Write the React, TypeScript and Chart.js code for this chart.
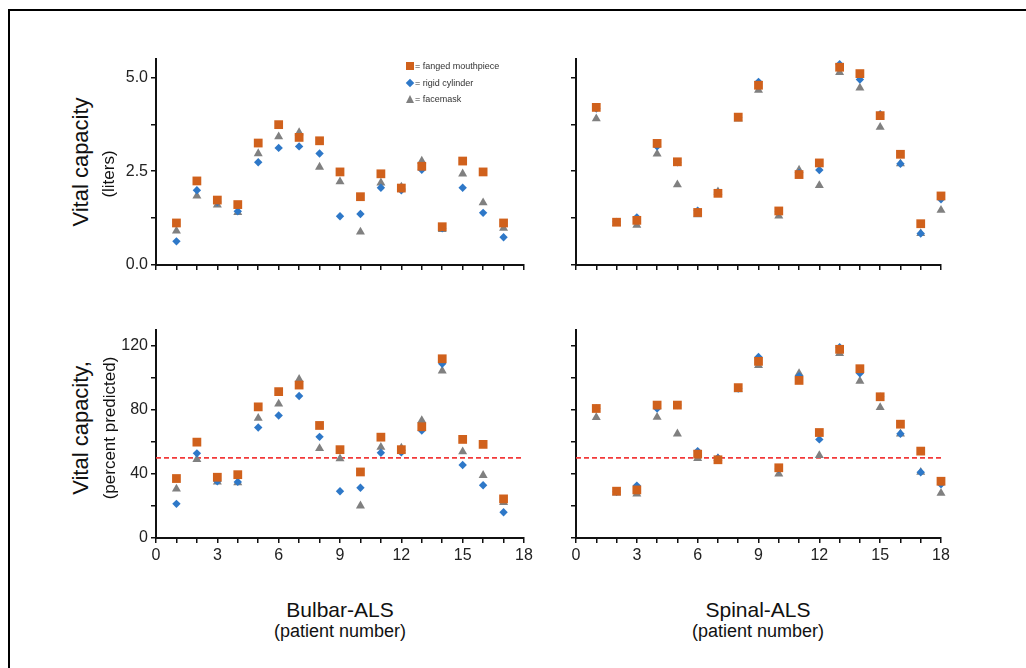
import React, { useEffect, useRef } from 'react';
import { Chart, registerables } from 'chart.js';

Chart.register(...registerables);

// ---------- data ----------
const bulbarPatients = [1, 2, 3, 4, 5, 6, 7, 8, 9, 10, 11, 12, 13, 14, 15, 16, 17];
const spinalPatients = [1, 2, 3, 4, 5, 6, 7, 8, 9, 10, 11, 12, 13, 14, 15, 16, 17, 18];

const bulbarLitersFlanged = [1.12, 2.24, 1.73, 1.61, 3.25, 3.74, 3.4, 3.31, 2.48, 1.82, 2.43, 2.05, 2.63, 1.02, 2.77, 2.48, 1.12];
const bulbarLitersRigid = [0.63, 1.99, 1.68, 1.43, 2.74, 3.12, 3.16, 2.97, 1.3, 1.36, 2.06, 1.99, 2.54, 0.98, 2.06, 1.39, 0.74];
const bulbarLitersMask = [0.91, 1.84, 1.6, 1.4, 2.97, 3.42, 3.53, 2.61, 2.22, 0.88, 2.19, 2.08, 2.77, 0.95, 2.43, 1.66, 0.98];

const spinalLitersFlanged = [4.2, 1.14, 1.19, 3.24, 2.75, 1.4, 1.91, 3.94, 4.79, 1.44, 2.41, 2.72, 5.27, 5.1, 3.98, 2.95, 1.1, 1.84];
const spinalLitersRigid = [4.17, 1.15, 1.27, 3.16, 2.74, 1.45, 1.93, 3.94, 4.88, 1.42, 2.45, 2.53, 5.35, 4.94, 4.02, 2.7, 0.84, 1.75];
const spinalLitersMask = [3.9, 1.11, 1.06, 2.96, 2.14, 1.34, 1.95, 3.89, 4.66, 1.31, 2.53, 2.12, 5.13, 4.72, 3.67, 2.7, 0.84, 1.46];

const bulbarPctFlanged = [37.1, 59.8, 37.9, 39.5, 81.8, 91.3, 95.4, 70.2, 55.1, 41.2, 62.9, 55.1, 69.4, 111.8, 61.5, 58.4, 24.4];
const bulbarPctRigid = [21.3, 52.8, 35.4, 35.0, 68.9, 76.4, 88.6, 63.1, 29.2, 31.3, 53.2, 53.4, 67.1, 108.7, 45.5, 32.9, 16.1];
const bulbarPctMask = [30.6, 49.1, 35.0, 34.6, 74.7, 83.6, 99.0, 55.9, 49.5, 20.1, 56.7, 56.1, 73.3, 104.3, 53.8, 39.1, 22.2];

const spinalPctFlanged = [80.8, 29.2, 30.0, 82.9, 82.9, 52.3, 48.8, 93.8, 110.2, 43.8, 98.3, 65.8, 117.7, 105.6, 88.1, 71.0, 54.2, 35.4];
const spinalPctRigid = [80.8, 28.8, 32.7, 80.8, 82.9, 54.2, 50.0, 93.3, 112.9, 43.0, 101.0, 61.5, 119.0, 102.7, 88.1, 65.0, 41.0, 33.5];
const spinalPctMask = [75.2, 28.1, 27.5, 75.4, 65.0, 49.6, 49.6, 92.5, 107.7, 40.0, 102.7, 51.5, 115.2, 97.9, 81.5, 65.0, 41.0, 27.9];

const thresholdPct = 50;

const xTicks = [0, 1, 2, 3, 4, 5, 6, 7, 8, 9, 10, 11, 12, 13, 14, 15, 16, 17, 18];
const xLabelValues = [0, 3, 6, 9, 12, 15, 18];
const yTicksLiters = [0, 1.25, 2.5, 3.75, 5.0];
const yLabelLiters = [0, 2.5, 5.0];
const yTicksPct = [0, 20, 40, 60, 80, 100, 120];
const yLabelPct = [0, 40, 80, 120];

const legendLabels = ['= fanged mouthpiece', '= rigid cylinder', '= facemask'];

// ---------- styles ----------
const FONT = '"Liberation Sans", Arial, Helvetica, sans-serif';
const ORANGE = '#d0611c';
const BLUE = '#2e78c8';
const GRAY = '#808080';
const AXIS = '#111111';

type Area = { left: number; top: number; right: number; bottom: number };

type PanelProps = {
  area: Area;
  patients: number[];
  flanged: number[];
  rigid: number[];
  mask: number[];
  yMax: number;
  yTicks: number[];
  yLabels: number[] | null;
  yDigits: number;
  xLabels: number[] | null;
  threshold?: number;
};

const YW = 60;
const XH = 30;
const PT = 12;
const PR = 14;

function Panel(props: PanelProps) {
  const { area, patients, flanged, rigid, mask, yMax, yTicks, yLabels, yDigits, xLabels, threshold } = props;
  const ref = useRef<HTMLCanvasElement>(null);
  const cw = area.right - area.left + YW + PR;
  const ch = area.bottom - area.top + PT + XH;

  useEffect(() => {
    if (!ref.current) return;
    const toPts = (ys: number[]) => patients.map((x, i) => ({ x, y: ys[i] }));
    const datasets: any[] = [
      {
        type: 'scatter',
        data: toPts(flanged),
        pointStyle: 'rect',
        pointRadius: 6.2,
        backgroundColor: ORANGE,
        borderColor: ORANGE,
        borderWidth: 0,
        clip: false,
      },
      {
        type: 'scatter',
        data: toPts(rigid),
        pointStyle: 'rectRot',
        pointRadius: 4.2,
        backgroundColor: BLUE,
        borderColor: BLUE,
        borderWidth: 0,
        clip: false,
      },
      {
        type: 'scatter',
        data: toPts(mask),
        pointStyle: 'triangle',
        pointRadius: 5.2,
        backgroundColor: GRAY,
        borderColor: GRAY,
        borderWidth: 0,
        clip: false,
      },
    ];
    if (threshold !== undefined) {
      datasets.push({
        type: 'line',
        data: [
          { x: xTicks[0], y: threshold },
          { x: xTicks[xTicks.length - 1], y: threshold },
        ],
        borderColor: '#f23a3a',
        borderWidth: 1.8,
        borderDash: [5, 3],
        pointRadius: 0,
        fill: false,
        clip: false,
      });
    }

    const tickFont = { family: FONT, size: 16 };
    const chart = new Chart(ref.current, {
      type: 'scatter',
      data: { datasets },
      options: {
        animation: false,
        responsive: false,
        devicePixelRatio: 1,
        layout: { padding: { top: PT, right: PR, left: 0, bottom: 0 } },
        plugins: { legend: { display: false }, tooltip: { enabled: false } },
        scales: {
          x: {
            type: 'linear',
            min: xTicks[0],
            max: xTicks[xTicks.length - 1],
            afterBuildTicks: (s: any) => {
              s.ticks = xTicks.map((v) => ({ value: v }));
            },
            afterFit: (s: any) => {
              s.height = XH;
            },
            ticks: {
              autoSkip: false,
              maxRotation: 0,
              padding: 3,
              color: '#222',
              font: tickFont,
              callback: (v: any) => (xLabels && xLabels.includes(Number(v)) ? String(v) : ''),
            },
            grid: {
              drawOnChartArea: false,
              drawTicks: true,
              tickLength: 5,
              color: AXIS,
              lineWidth: 1.5,
            },
            border: { display: true, color: AXIS, width: 2 },
          },
          y: {
            type: 'linear',
            min: 0,
            max: yMax,
            afterBuildTicks: (s: any) => {
              s.ticks = yTicks.map((v) => ({ value: v }));
            },
            afterFit: (s: any) => {
              s.width = YW;
            },
            ticks: {
              autoSkip: false,
              padding: 3,
              color: '#222',
              font: tickFont,
              callback: (v: any) =>
                yLabels && yLabels.some((l) => Math.abs(l - Number(v)) < 1e-9)
                  ? Number(v).toFixed(yDigits)
                  : '',
            },
            grid: {
              drawOnChartArea: false,
              drawTicks: true,
              tickLength: 5,
              color: AXIS,
              lineWidth: 1.5,
            },
            border: { display: true, color: AXIS, width: 2 },
          },
        },
      } as any,
    });
    return () => chart.destroy();
  }, []);

  return (
    <canvas
      ref={ref}
      width={cw}
      height={ch}
      style={{
        position: 'absolute',
        left: area.left - YW,
        top: area.top - PT,
        width: cw,
        height: ch,
      }}
    />
  );
}

function RotLabel({ text, cx, cy, size }: { text: string; cx: number; cy: number; size: number }) {
  return (
    <div
      style={{
        position: 'absolute',
        left: cx,
        top: cy,
        transform: 'translate(-50%, -50%) rotate(-90deg)',
        whiteSpace: 'nowrap',
        fontFamily: FONT,
        fontSize: size,
        lineHeight: 1,
        color: '#111',
      }}
    >
      {text}
    </div>
  );
}

function HLabel({ text, cx, cy, size }: { text: string; cx: number; cy: number; size: number }) {
  return (
    <div
      style={{
        position: 'absolute',
        left: cx,
        top: cy,
        transform: 'translate(-50%, -50%)',
        whiteSpace: 'nowrap',
        fontFamily: FONT,
        fontSize: size,
        lineHeight: 1,
        color: '#111',
      }}
    >
      {text}
    </div>
  );
}

function Legend() {
  const rows = [66, 83, 99];
  const markers = [
    <div key="o" style={{ width: 8, height: 8, background: ORANGE }} />,
    <div key="b" style={{ width: 6, height: 6, background: BLUE, transform: 'rotate(45deg)' }} />,
    <div
      key="g"
      style={{
        width: 0,
        height: 0,
        borderLeft: '4.5px solid transparent',
        borderRight: '4.5px solid transparent',
        borderBottom: `8px solid ${GRAY}`,
      }}
    />,
  ];
  return (
    <>
      {rows.map((y, i) => (
        <React.Fragment key={i}>
          <div
            style={{
              position: 'absolute',
              left: 409.5,
              top: y,
              transform: 'translate(-50%, -50%)',
            }}
          >
            {markers[i]}
          </div>
          <div
            style={{
              position: 'absolute',
              left: 415,
              top: y,
              transform: 'translateY(-50%)',
              fontFamily: FONT,
              fontSize: 9,
              lineHeight: 1,
              whiteSpace: 'nowrap',
              color: '#333',
            }}
          >
            {legendLabels[i]}
          </div>
        </React.Fragment>
      ))}
    </>
  );
}

const TL: Area = { left: 156, top: 58, right: 524, bottom: 265 };
const TR: Area = { left: 576, top: 58, right: 941, bottom: 265 };
const BL: Area = { left: 156, top: 329, right: 524, bottom: 538 };
const BR: Area = { left: 576, top: 329, right: 941, bottom: 538 };

export default function App() {
  return (
    <div
      style={{
        position: 'absolute',
        left: 0,
        top: 0,
        width: 1026,
        height: 668,
        overflow: 'hidden',
        background: '#fff',
      }}
    >
      <div
        style={{
          position: 'absolute',
          left: 8,
          top: 9,
          width: 1100,
          height: 800,
          borderLeft: '2px solid #000',
          borderTop: '2px solid #000',
        }}
      />
      <Panel
        area={TL}
        patients={bulbarPatients}
        flanged={bulbarLitersFlanged}
        rigid={bulbarLitersRigid}
        mask={bulbarLitersMask}
        yMax={5.5}
        yTicks={yTicksLiters}
        yLabels={yLabelLiters}
        yDigits={1}
        xLabels={null}
      />
      <Panel
        area={TR}
        patients={spinalPatients}
        flanged={spinalLitersFlanged}
        rigid={spinalLitersRigid}
        mask={spinalLitersMask}
        yMax={5.5}
        yTicks={yTicksLiters}
        yLabels={null}
        yDigits={1}
        xLabels={null}
      />
      <Panel
        area={BL}
        patients={bulbarPatients}
        flanged={bulbarPctFlanged}
        rigid={bulbarPctRigid}
        mask={bulbarPctMask}
        yMax={130}
        yTicks={yTicksPct}
        yLabels={yLabelPct}
        yDigits={0}
        xLabels={xLabelValues}
        threshold={thresholdPct}
      />
      <Panel
        area={BR}
        patients={spinalPatients}
        flanged={spinalPctFlanged}
        rigid={spinalPctRigid}
        mask={spinalPctMask}
        yMax={130}
        yTicks={yTicksPct}
        yLabels={null}
        yDigits={0}
        xLabels={xLabelValues}
        threshold={thresholdPct}
      />
      <Legend />
      <RotLabel text="Vital capacity" cx={81} cy={162} size={22} />
      <RotLabel text="(liters)" cx={108} cy={174} size={17} />
      <RotLabel text="Vital capacity," cx={81} cy={428} size={22} />
      <RotLabel text="(percent predicted)" cx={109} cy={428} size={17} />
      <HLabel text="Bulbar-ALS" cx={340} cy={609} size={21} />
      <HLabel text="(patient number)" cx={340} cy={631} size={18} />
      <HLabel text="Spinal-ALS" cx={758} cy={609} size={21} />
      <HLabel text="(patient number)" cx={758} cy={631} size={18} />
    </div>
  );
}
